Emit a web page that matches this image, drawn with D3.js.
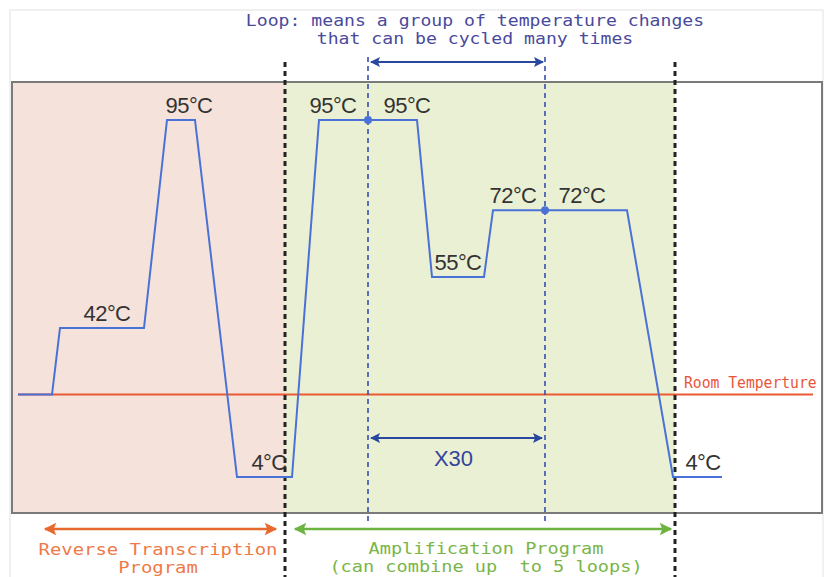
<!DOCTYPE html>
<html>
<head>
<meta charset="utf-8">
<script src="https://cdn.jsdelivr.net/npm/d3@7"></script>
<style>
  body { margin: 0; background: #fff; }
  svg { display: block; }
  .mono { font-family: "DejaVu Sans Mono", "Liberation Mono", monospace; }
  .temp { font-family: "Liberation Sans", Arial, sans-serif; font-size: 22px; fill: #333; letter-spacing: -0.6px; }
</style>
</head>
<body>
<div id="chart"></div>
<script>
// temperature profile (time in arbitrary units, temperature in °C)
var stepTimes = [6, 40, 48, 132, 155, 183, 225, 280, 307, 405, 420, 472, 481, 615, 661, 710];
var stepTemps = [25, 25, 42, 42, 95, 95, 4, 4, 95, 95, 55, 55, 72, 72, 4, 4];

// labels above the plateaus
var labelTexts = ["42°C", "95°C", "4°C", "95°C", "95°C", "55°C", "72°C", "72°C", "4°C"];
var labelTimes = [95, 177, 257, 321, 395, 446, 501, 570, 691];
var labelTemps = [42, 95, 4, 95, 95, 55, 72, 72, 4];

var roomTemp = 25;
var programBounds = [0, 273, 663];        // reverse transcription | amplification | after
var loopBounds = [356, 533];
var loopDotTemps = [95, 72];

var width = 827, height = 577;
var box = { left: 12, top: 82, right: 822, bottom: 513 };

var x = d3.scaleLinear().domain([0, 810]).range([box.left, box.right]);
var y = d3.scaleLinear().domain([4, 95]).range([477, 120]);

var svg = d3.select("#chart").append("svg")
    .attr("width", width)
    .attr("height", height);

// arrow heads
var defs = svg.append("defs");
function addMarker(id, color) {
    defs.append("marker")
        .attr("id", id)
        .attr("viewBox", "0 0 10 10")
        .attr("refX", 9).attr("refY", 5)
        .attr("markerWidth", 7).attr("markerHeight", 5)
        .attr("markerUnits", "strokeWidth")
        .attr("orient", "auto-start-reverse")
        .append("path")
        .attr("d", "M0,0 L10,5 L0,10 L2,5 Z")
        .attr("fill", color);
}
addMarker("arrBlue", "#2a47a0");
addMarker("arrOrange", "#e8692e");
addMarker("arrGreen", "#6db33f");

// outer faint frame
svg.append("rect")
    .attr("x", 10).attr("y", 10)
    .attr("width", 813).attr("height", 600)
    .attr("fill", "none")
    .attr("stroke", "#e2e2e2");

// program backgrounds
svg.append("rect")
    .attr("x", box.left).attr("y", box.top)
    .attr("width", x(programBounds[1]) - box.left)
    .attr("height", box.bottom - box.top)
    .attr("fill", "#f5e2db");
svg.append("rect")
    .attr("x", x(programBounds[1])).attr("y", box.top)
    .attr("width", x(programBounds[2]) - x(programBounds[1]))
    .attr("height", box.bottom - box.top)
    .attr("fill", "#eaf0d3");

// box border
svg.append("rect")
    .attr("x", box.left).attr("y", box.top)
    .attr("width", box.right - box.left)
    .attr("height", box.bottom - box.top)
    .attr("fill", "none")
    .attr("stroke", "#7a7a7a")
    .attr("stroke-width", 2);

// room temperature
svg.append("line")
    .attr("x1", 18).attr("x2", 813)
    .attr("y1", y(roomTemp)).attr("y2", y(roomTemp))
    .attr("stroke", "#ea5a32")
    .attr("stroke-width", 2);
svg.append("text")
    .attr("class", "mono")
    .attr("transform", "translate(684," + (y(roomTemp) - 7) + ") scale(0.98,1.1)")
    .attr("font-size", "15px")
    .attr("fill", "#e8553a")
    .text("Room Temperture");

// loop dashed lines (blue)
svg.selectAll(".loopLine").data(loopBounds).enter().append("line")
    .attr("x1", d => x(d)).attr("x2", d => x(d))
    .attr("y1", 57).attr("y2", 523)
    .attr("stroke", "#3550b0")
    .attr("stroke-width", 1.6)
    .attr("stroke-dasharray", "5,4");

// program dashed lines (black)
svg.selectAll(".progLine").data(programBounds.slice(1)).enter().append("line")
    .attr("x1", d => x(d)).attr("x2", d => x(d))
    .attr("y1", 62).attr("y2", 577)
    .attr("stroke", "#222")
    .attr("stroke-width", 3)
    .attr("stroke-dasharray", "5,4");

// profile
var line = d3.line()
    .x((d, i) => x(stepTimes[i]))
    .y(d => y(d));
svg.append("path")
    .attr("d", line(stepTemps))
    .attr("fill", "none")
    .attr("stroke", "#4a72d6")
    .attr("stroke-width", 2);

svg.selectAll(".dot").data(loopBounds).enter().append("circle")
    .attr("cx", d => x(d))
    .attr("cy", (d, i) => y(loopDotTemps[i]))
    .attr("r", 4)
    .attr("fill", "#4a72d6");

svg.selectAll(".temp").data(labelTexts).enter().append("text")
    .attr("class", "temp")
    .attr("x", (d, i) => x(labelTimes[i]))
    .attr("y", (d, i) => y(labelTemps[i]) - 7)
    .attr("text-anchor", "middle")
    .text(d => d);

// loop arrows
function arrow(x1, x2, yy, color, marker, w) {
    svg.append("line")
        .attr("x1", x1).attr("x2", x2)
        .attr("y1", yy).attr("y2", yy)
        .attr("stroke", color)
        .attr("stroke-width", w)
        .attr("marker-start", "url(#" + marker + ")")
        .attr("marker-end", "url(#" + marker + ")");
}
arrow(x(loopBounds[0]) + 3, x(loopBounds[1]) - 2, 62, "#2a47a0", "arrBlue", 2);
arrow(x(loopBounds[0]) + 3, x(loopBounds[1]) - 3, 438, "#2a47a0", "arrBlue", 2);

svg.append("text")
    .attr("x", (x(loopBounds[0]) + x(loopBounds[1])) / 2 - 3)
    .attr("y", 466)
    .attr("text-anchor", "middle")
    .attr("font-family", "Liberation Sans, Arial, sans-serif")
    .attr("font-size", "22px")
    .attr("fill", "#34439a")
    .text("X30");

// block of mono text, stretched sideways so lines can sit close
function monoBlock(lines, cx, y0, gap, sx, color) {
    svg.selectAll(null).data(lines).enter().append("text")
        .attr("class", "mono")
        .attr("transform", (d, i) => "translate(" + cx + "," + (y0 + i * gap) + ") scale(" + sx + ",1)")
        .attr("text-anchor", "middle")
        .attr("font-size", "15px")
        .attr("fill", color)
        .style("white-space", "pre")
        .text(d => d);
}

var titleLines = ["Loop: means a group of temperature changes", "that can be cycled many times"];
var rtLines = ["Reverse Transcription", "Program"];
var ampLines = ["Amplification Program", "(can combine up  to 5 loops)"];

monoBlock(titleLines, 475, 26, 18, 1.21, "#4a4a9c");

// program arrows and names
arrow(45, 276, 529, "#e8692e", "arrOrange", 2.5);
arrow(295, 671, 529, "#6db33f", "arrGreen", 2.5);

monoBlock(rtLines, 158, 555, 17.5, 1.26, "#ee7a48");
monoBlock(ampLines, 486, 554, 17.5, 1.24, "#7ab548");
</script>
</body>
</html>
